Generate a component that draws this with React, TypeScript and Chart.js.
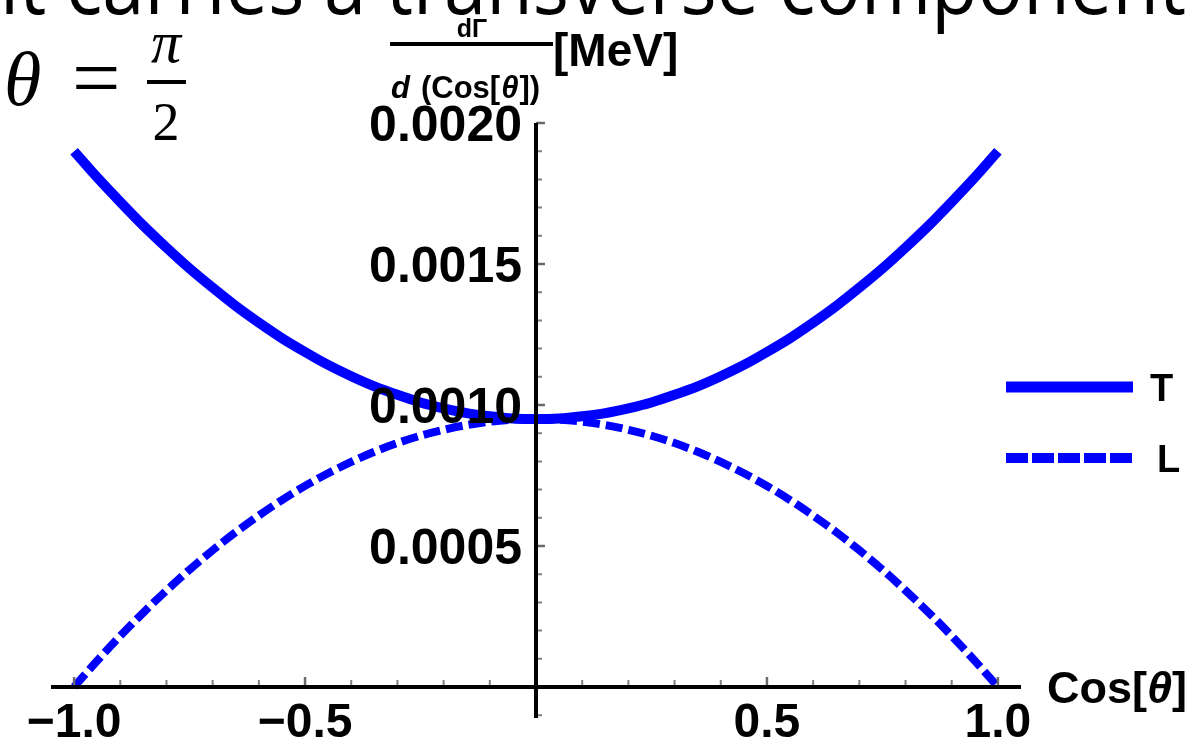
import React, { useEffect, useRef } from "react";
import { Chart, registerables } from "chart.js";

Chart.register(...registerables);

// ---- data ----
const cosTheta = [
  -1.0, -0.95, -0.9, -0.85, -0.8, -0.75, -0.7, -0.65, -0.6, -0.55, -0.5, -0.45, -0.4, -0.35, -0.3, -0.25, -0.2, -0.15, -0.1, -0.05,
  0.0, 0.05, 0.1, 0.15, 0.2, 0.25, 0.3, 0.35, 0.4, 0.45, 0.5, 0.55, 0.6, 0.65, 0.7, 0.75, 0.8, 0.85, 0.9, 0.95, 1.0,
];
const transverse = [
  0.0019, 0.001807, 0.00172, 0.001636, 0.001558, 0.001484, 0.001416, 0.001351, 0.001292, 0.001237, 0.001188, 0.001142, 0.001102, 0.001066, 0.001036, 0.001009, 0.000988, 0.000971, 0.00096, 0.000952,
  0.00095, 0.000952, 0.00096, 0.000971, 0.000988, 0.001009, 0.001036, 0.001066, 0.001102, 0.001142, 0.001188, 0.001237, 0.001292, 0.001351, 0.001416, 0.001484, 0.001558, 0.001636, 0.00172, 0.001807, 0.0019,
];
const longitudinal = [
  0.0, 0.000093, 0.000181, 0.000264, 0.000342, 0.000416, 0.000485, 0.000549, 0.000608, 0.000663, 0.000713, 0.000758, 0.000798, 0.000834, 0.000865, 0.000891, 0.000912, 0.000929, 0.000941, 0.000948,
  0.00095, 0.000948, 0.000941, 0.000929, 0.000912, 0.000891, 0.000865, 0.000834, 0.000798, 0.000758, 0.000713, 0.000663, 0.000608, 0.000549, 0.000485, 0.000416, 0.000342, 0.000264, 0.000181, 0.000093, 0.0,
];

const seriesLabels = ["T", "L"];
const xMajorTicks = [-1.0, -0.5, 0.5, 1.0];
const xTickLabels = ["\u22121.0", "\u22120.5", "0.5", "1.0"];
const xMinorTicks = [-0.9, -0.8, -0.7, -0.6, -0.4, -0.3, -0.2, -0.1, 0.1, 0.2, 0.3, 0.4, 0.6, 0.7, 0.8, 0.9];
const yMajorTicks = [0.0005, 0.001, 0.0015, 0.002];
const yTickLabels = ["0.0005", "0.0010", "0.0015", "0.0020"];
const yMinorTicks = [-0.0001, 0.0001, 0.0002, 0.0003, 0.0004, 0.0006, 0.0007, 0.0008, 0.0009, 0.0011, 0.0012, 0.0013, 0.0014, 0.0016, 0.0017, 0.0018, 0.0019];
const headline = "it carries a transverse component";

const BLUE = "#0000ff";
const SANS = '"Liberation Sans", Arial, sans-serif';
const SERIF = '"Liberation Serif", "Times New Roman", serif';

const decorPlugin = {
  id: "decor",
  afterDatasetsDraw(chart: any) {
    const ctx: CanvasRenderingContext2D = chart.ctx;
    const xs = chart.scales.x;
    const ys = chart.scales.y;
    const area = chart.chartArea;
    const x0 = xs.getPixelForValue(0);
    const y0 = ys.getPixelForValue(0);
    ctx.save();

    // minor / major ticks
    ctx.strokeStyle = "#808080";
    ctx.lineWidth = 2;
    ctx.beginPath();
    xMinorTicks.forEach((v) => {
      const px = xs.getPixelForValue(v);
      ctx.moveTo(px, y0);
      ctx.lineTo(px, y0 - 7);
    });
    yMinorTicks.forEach((v) => {
      const py = ys.getPixelForValue(v);
      ctx.moveTo(x0, py);
      ctx.lineTo(x0 + 6, py);
    });
    ctx.stroke();
    ctx.strokeStyle = "#6a6a6a";
    ctx.lineWidth = 2.5;
    ctx.beginPath();
    xMajorTicks.forEach((v) => {
      const px = xs.getPixelForValue(v);
      ctx.moveTo(px, y0);
      ctx.lineTo(px, y0 - 10);
    });
    yMajorTicks.forEach((v) => {
      const py = ys.getPixelForValue(v);
      ctx.moveTo(x0, py);
      ctx.lineTo(x0 + 9, py);
    });
    ctx.stroke();

    // axes
    ctx.strokeStyle = "#000";
    ctx.lineWidth = 4;
    ctx.beginPath();
    ctx.moveTo(area.left, y0);
    ctx.lineTo(area.right, y0);
    ctx.moveTo(x0, area.top);
    ctx.lineTo(x0, area.bottom);
    ctx.stroke();

    // tick labels
    ctx.fillStyle = "#000";
    ctx.font = `bold 48px ${SANS}`;
    ctx.textAlign = "center";
    ctx.textBaseline = "alphabetic";
    xMajorTicks.forEach((v, i) => {
      ctx.fillText(xTickLabels[i], xs.getPixelForValue(v), y0 + 50);
    });
    ctx.font = `bold 50px ${SANS}`;
    ctx.textAlign = "right";
    yMajorTicks.forEach((v, i) => {
      ctx.fillText(yTickLabels[i], x0 - 14, ys.getPixelForValue(v) + 18);
    });

    // x axis label Cos[θ]
    ctx.textAlign = "left";
    const bx = area.right + 26;
    const by = y0 + 16;
    ctx.font = `bold 45px ${SANS}`;
    let cx = bx;
    ctx.fillText("Cos[", cx, by);
    cx += ctx.measureText("Cos[").width;
    ctx.font = `italic bold 45px ${SANS}`;
    ctx.fillText("\u03b8", cx, by);
    cx += ctx.measureText("\u03b8").width;
    ctx.font = `bold 45px ${SANS}`;
    ctx.fillText("]", cx, by);

    // headline (cut at the top)
    ctx.font = `84px "Open Sans", "Noto Sans", sans-serif`;
    ctx.textAlign = "left";
    ctx.fillText(headline, 0, 14, 1186);

    // y axis label fraction
    ctx.font = `bold 25px ${SANS}`;
    ctx.textAlign = "center";
    ctx.fillText("d\u0393", 472, 37);
    ctx.fillRect(390, 42, 163, 4);
    ctx.textAlign = "left";
    let dx = 391;
    const dy = 98;
    ctx.font = `italic bold 31px ${SANS}`;
    ctx.fillText("d", dx, dy);
    dx += ctx.measureText("d").width + 11;
    ctx.font = `bold 31px ${SANS}`;
    ctx.fillText("(Cos[", dx, dy);
    dx += ctx.measureText("(Cos[").width + 1;
    ctx.font = `italic bold 31px ${SANS}`;
    ctx.fillText("\u03b8", dx, dy);
    dx += ctx.measureText("\u03b8").width + 1;
    ctx.font = `bold 31px ${SANS}`;
    ctx.fillText("])", dx, dy);
    ctx.font = `bold 46px ${SANS}`;
    ctx.fillText("[MeV]", 553, 66);

    // legend
    const legY = [387, 458];
    ctx.strokeStyle = BLUE;
    ctx.lineCap = "butt";
    ctx.lineWidth = 11;
    ctx.setLineDash([]);
    ctx.beginPath();
    ctx.moveTo(1006, legY[0]);
    ctx.lineTo(1133, legY[0]);
    ctx.stroke();
    ctx.lineWidth = 10;
    ctx.setLineDash([22, 4]);
    ctx.beginPath();
    ctx.moveTo(1006, legY[1]);
    ctx.lineTo(1132, legY[1]);
    ctx.stroke();
    ctx.setLineDash([]);
    ctx.fillStyle = "#000";
    ctx.font = `bold 38px ${SANS}`;
    ctx.fillText(seriesLabels[0], 1150, legY[0] + 14);
    ctx.fillText(seriesLabels[1], 1157, legY[1] + 14);

    // θ = π/2
    ctx.font = `italic 76px ${SERIF}`;
    ctx.fillText("\u03b8", 4, 105);
    ctx.font = `86px ${SERIF}`;
    ctx.fillText("=", 72, 107);
    ctx.textAlign = "center";
    ctx.font = `italic 60px ${SERIF}`;
    ctx.fillText("\u03c0", 166, 62);
    ctx.font = `54px ${SERIF}`;
    ctx.fillText("2", 166, 140);
    ctx.fillRect(147, 80, 39, 4);

    ctx.restore();
  },
};

export default function App() {
  const canvasRef = useRef<HTMLCanvasElement | null>(null);

  useEffect(() => {
    const canvas = canvasRef.current;
    if (!canvas) return;
    const chart = new Chart(canvas, {
      type: "line",
      data: {
        datasets: [
          {
            label: seriesLabels[0],
            data: cosTheta.map((x, i) => ({ x, y: transverse[i] })),
            borderColor: BLUE,
            backgroundColor: BLUE,
            borderWidth: 10,
            pointRadius: 0,
            cubicInterpolationMode: "monotone",
            fill: false,
          },
          {
            label: seriesLabels[1],
            data: cosTheta.map((x, i) => ({ x, y: longitudinal[i] })),
            borderColor: BLUE,
            backgroundColor: BLUE,
            borderWidth: 8,
            borderDash: [17, 6],
            pointRadius: 0,
            cubicInterpolationMode: "monotone",
            fill: false,
          },
        ],
      },
      options: {
        responsive: false,
        animation: false,
        events: [],
        layout: { padding: { left: 51, right: 169, top: 123, bottom: 27 } },
        plugins: { legend: { display: false }, tooltip: { enabled: false } },
        scales: {
          x: { type: "linear", min: -1.05, max: 1.05, display: false },
          y: { type: "linear", min: -0.00011, max: 0.002, display: false },
        },
      },
      plugins: [decorPlugin],
    });
    return () => chart.destroy();
  }, []);

  return (
    <div style={{ position: "fixed", left: 0, top: 0, width: 1190, height: 745, background: "#fff" }}>
      <canvas ref={canvasRef} width={1190} height={745} style={{ display: "block" }} />
    </div>
  );
}
